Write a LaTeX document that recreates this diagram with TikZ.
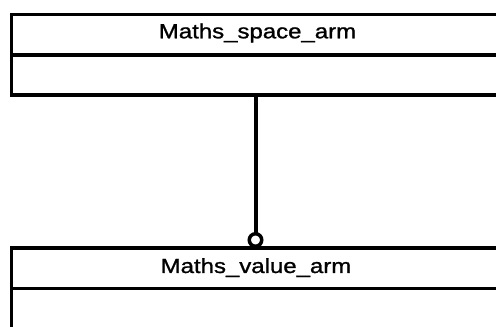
\documentclass[tikz,border=0pt]{standalone}
\usepackage{fontspec}
\setmainfont{Liberation Sans}
\newfontfamily\lblfont{Liberation Sans}[FakeBold=1.1]
\begin{document}
\begin{tikzpicture}[x=1pt,y=1pt,
  umlbox/.style={draw=black, line width=3.5pt, rectangle, inner sep=0pt, outer sep=0pt,
    minimum width=508.5pt, minimum height=80.5pt, anchor=north west},
  divider/.style={draw=black, line width=3.5pt},
  conn/.style={draw=black, line width=4pt},
  ringnode/.style={circle, draw=black, fill=white, line width=3.5pt, minimum size=12.5pt, inner sep=0pt, outer sep=0pt},
  lbl/.style={anchor=base, inner sep=0pt, font=\lblfont\fontsize{20.5}{24}\selectfont}]
\useasboundingbox (0,0) rectangle (496,327);
\clip (0,0) rectangle (496,327);
% top class
\node[umlbox] (spacebox) at (11.5,327-14.5) {};
\draw[divider] (spacebox.west |- 0,327-55) coordinate (sdl) -- (spacebox.east |- 0,327-55) coordinate (sdr);
\node[lbl] (spacename) at (257.5,327-38.3) {\scalebox{1.17}[1]{Maths\_space\_arm}};
% bottom class
\node[umlbox] (valuebox) at (11.5,327-248) {};
\draw[divider] (valuebox.west |- 0,327-288.5) coordinate (vdl) -- (valuebox.east |- 0,327-288.5) coordinate (vdr);
\node[lbl] (valuename) at (256,327-273) {\scalebox{1.17}[1]{Maths\_value\_arm}};
% connector
\node[ringnode] (ring) at (255.5,327-240) {};
\draw[conn] (spacebox.south -| ring) -- (ring.north);
\end{tikzpicture}
\end{document}
